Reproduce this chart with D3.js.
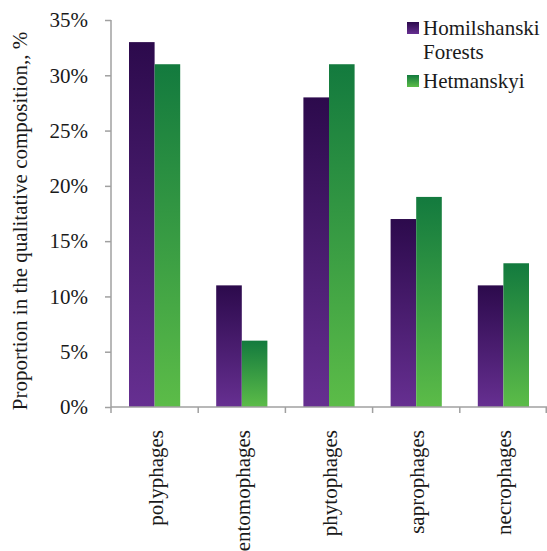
<!DOCTYPE html>
<html>
<head>
<meta charset="utf-8">
<script src="https://cdn.jsdelivr.net/npm/d3@7"></script>
</head>
<body style="margin:0">
<svg id="chart" width="547" height="551"></svg>
<script>
// Trophic groups and their share in the qualitative composition (%)
const categories = ["polyphages", "entomophages", "phytophages", "saprophages", "necrophages"];
const seriesNames = ["Homilshanski Forests", "Hetmanskyi"];
const homilshanski = [33, 11, 28, 17, 11];
const hetmanskyi = [31, 6, 31, 19, 13];
const yTicks = [0, 5, 10, 15, 20, 25, 30, 35];
const yTitle = "Proportion in the qualitative composition,, %";

const FONT = "Liberation Serif";
const TXT = "#1a1a1a";

const svg = d3.select("#chart");
const margin = { left: 111, right: 0, top: 20, bottom: 144 };
const W = 547, H = 551;
const plotW = W - margin.left - margin.right;
const plotH = H - margin.top - margin.bottom;

// Vertical gradients per series, dark at the top of each bar
const defs = svg.append("defs");
const grads = [
  { id: "gPurple", top: "#2c0a4c", bottom: "#662f91" },
  { id: "gGreen", top: "#137a3e", bottom: "#5cbc48" }
];
grads.forEach(g => {
  const lg = defs.append("linearGradient").attr("id", g.id)
    .attr("x1", 0).attr("y1", 0).attr("x2", 0).attr("y2", 1);
  lg.append("stop").attr("offset", "0%").attr("stop-color", g.top);
  lg.append("stop").attr("offset", "100%").attr("stop-color", g.bottom);
});

// Text helper: serif face, dark grey
function label(sel, size) {
  return sel.attr("font-family", FONT).attr("font-size", size).attr("fill", TXT);
}

const g = svg.append("g").attr("transform", `translate(${margin.left},${margin.top})`);

const x0 = d3.scaleBand().domain(categories).range([0, plotW]).paddingInner(0).paddingOuter(0);
const x1 = d3.scaleBand().domain(seriesNames).range([18, x0.bandwidth() - 18]).padding(0);
const y = d3.scaleLinear().domain([0, 35]).range([plotH, 0]);

const axisColor = "#a0a0a0";

// Bars
const rows = categories.map((c, i) => ({ c, vals: [homilshanski[i], hetmanskyi[i]] }));
const groups = g.selectAll("g.grp").data(rows).enter().append("g")
  .attr("transform", d => `translate(${x0(d.c)},0)`);
groups.selectAll("rect").data(d => d.vals.map((v, k) => ({ v, k }))).enter().append("rect")
  .attr("x", d => x1(seriesNames[d.k]))
  .attr("width", x1.bandwidth())
  .attr("y", d => y(d.v))
  .attr("height", d => plotH - y(d.v))
  .attr("fill", d => `url(#${grads[d.k].id})`);

// Y axis
const yAxis = d3.axisLeft(y).tickValues(yTicks).tickFormat(d => d + "%").tickSize(6).tickPadding(17);
const ya = g.append("g").call(yAxis);
ya.attr("font-family", null).attr("font-size", null);
ya.select(".domain").attr("stroke", axisColor).attr("stroke-width", 1.5).attr("d", `M0,0V${plotH}`);
ya.selectAll(".tick line").attr("stroke", axisColor).attr("stroke-width", 1.5);
label(ya.selectAll(".tick text"), 21);

// X axis: ticks at category boundaries
const xa = g.append("g").attr("transform", `translate(0,${plotH})`);
xa.append("line").attr("x1", 0).attr("x2", plotW).attr("y1", 0).attr("y2", 0)
  .attr("stroke", axisColor).attr("stroke-width", 1.5);
const bounds = categories.map(c => x0(c)).concat([plotW - 0.75]);
xa.selectAll("line.tk").data(bounds).enter().append("line").attr("class", "tk")
  .attr("x1", d => d).attr("x2", d => d).attr("y1", 0).attr("y2", 6)
  .attr("stroke", axisColor).attr("stroke-width", 1.5);
label(xa.selectAll("text.cat").data(categories).enter().append("text").attr("class", "cat"), 21)
  .attr("transform", d => `translate(${x0(d) + x0.bandwidth() / 2 + 8},23) rotate(-90)`)
  .attr("text-anchor", "end")
  .text(d => d);

// Y axis title
label(svg.append("text"), 21)
  .attr("transform", `translate(27,221) rotate(-90)`)
  .attr("text-anchor", "middle")
  .text(yTitle);

// Legend
const legend = svg.append("g").attr("transform", "translate(407,22)");
const legendLines = [["Homilshanski", "Forests"], ["Hetmanskyi"]];
const legendY = [0, 53];
legendLines.forEach((lines, k) => {
  const lg = legend.append("g").attr("transform", `translate(0,${legendY[k]})`);
  lg.append("rect").attr("width", 12).attr("height", 12).attr("fill", `url(#${grads[k].id})`);
  lines.forEach((t, j) => {
    label(lg.append("text"), 21).attr("x", 16).attr("y", 13 + j * 24).text(t);
  });
});
</script>
</body>
</html>
